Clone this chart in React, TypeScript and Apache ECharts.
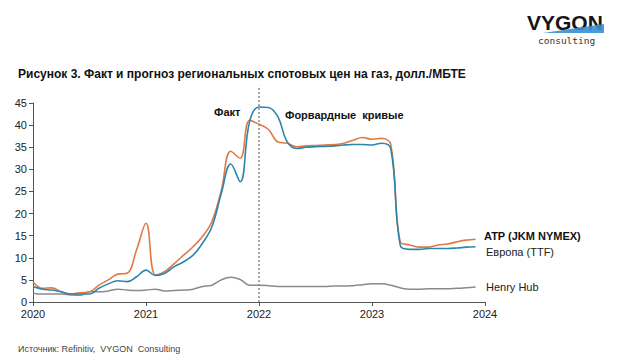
import React, { useEffect, useRef } from "react";
import * as echarts from "echarts";

// Monthly data, Jan 2020 .. Dec 2023
const startYear = 2020;
const monthCount = 48;

const atpJkm = [
  4.6, 3.1, 3.2, 2.3, 1.8, 2.1, 2.3, 3.8, 5.0, 6.3, 6.5, 11.8,
  17.8, 6.1, 6.9, 8.7, 10.6, 12.5, 14.8, 18.2, 25.3, 34.1, 32.5, 41.1,
  40.2, 39.0, 36.2, 35.9, 35.1, 35.3, 35.4, 35.5, 35.6, 35.9, 36.6, 37.2,
  36.8, 37.0, 35.6, 13.6, 12.9, 12.4, 12.4, 12.9, 13.1, 13.6, 14.0, 14.2,
];

const europeTtf = [
  3.5, 2.9, 2.7, 2.3, 1.8, 1.8, 1.8, 3.1, 4.1, 4.8, 4.6, 5.7,
  7.2, 6.0, 6.5, 8.0, 9.1, 10.6, 13.3, 17.0, 24.6, 31.2, 27.2, 40.8,
  44.1, 44.0, 41.9, 36.2, 34.7, 35.0, 35.1, 35.2, 35.3, 35.5, 35.6, 35.6,
  35.5, 35.9, 34.6, 12.8, 11.9, 11.9, 12.1, 12.1, 12.1, 12.2, 12.4, 12.5,
];

const henryHub = [
  2.0, 1.8, 1.8, 1.8, 1.6, 1.5, 2.3, 2.3, 2.5, 2.9, 2.7, 2.6,
  2.7, 2.9, 2.5, 2.6, 2.7, 2.9, 3.5, 3.8, 5.0, 5.6, 5.1, 3.8,
  3.8, 3.7, 3.5, 3.5, 3.5, 3.5, 3.5, 3.5, 3.6, 3.6, 3.7, 3.9,
  4.1, 4.1, 3.8, 3.2, 2.9, 2.9, 3.0, 3.0, 3.0, 3.1, 3.2, 3.4,
];

const seriesNames = ["ATP (JKM NYMEX)", "Европа (TTF)", "Henry Hub"];
const yearTicks = [2020, 2021, 2022, 2023, 2024];
const factForwardBoundary = 2022;

const title = "Рисунок 3. Факт и прогноз региональных спотовых цен на газ, долл./МБТЕ";
const source = "Источник: Refinitiv,  VYGON  Consulting";

const monthX: number[] = [];
for (let i = 0; i < monthCount; i++) monthX.push(startYear + i / 12);

const pair = (vals: number[]) => vals.map((v, i) => [monthX[i], v]);

const FONT = "'Liberation Sans', Arial, sans-serif";

export default function App() {
  const ref = useRef<HTMLDivElement>(null);
  useEffect(() => {
    document.body.style.margin = "0";
    if (!ref.current) return;
    const chart = echarts.init(ref.current, undefined, { renderer: "svg" });
    const lineBase = {
      type: "line" as const,
      smooth: 0.4,
      showSymbol: false,
      symbol: "none",
    };
    chart.setOption({
      animation: false,
      backgroundColor: "#ffffff",
      textStyle: { fontFamily: FONT },
      grid: { left: 33, right: 135, top: 103, bottom: 62 },
      xAxis: {
        type: "value",
        min: yearTicks[0],
        max: yearTicks[yearTicks.length - 1],
        interval: 1,
        axisLine: { show: true, lineStyle: { color: "#555", width: 1 } },
        axisTick: { show: true, length: 4, lineStyle: { color: "#555" } },
        axisLabel: {
          color: "#222",
          fontSize: 11,
          margin: 6,
          formatter: (v: number) => String(v),
        },
        splitLine: { show: false },
      },
      yAxis: {
        type: "value",
        min: 0,
        max: 45,
        interval: 5,
        axisLine: { show: true, lineStyle: { color: "#555", width: 1 } },
        axisTick: { show: true, length: 4, lineStyle: { color: "#555" } },
        axisLabel: { color: "#222", fontSize: 11, margin: 6 },
        splitLine: { show: false },
      },
      series: [
        {
          ...lineBase,
          name: seriesNames[2],
          data: pair(henryHub),
          lineStyle: { color: "#8a8a8a", width: 1.5 },
          z: 2,
        },
        {
          ...lineBase,
          name: seriesNames[0],
          data: pair(atpJkm),
          lineStyle: { color: "#E07A45", width: 1.6 },
          z: 3,
        },
        {
          ...lineBase,
          name: seriesNames[1],
          data: pair(europeTtf),
          lineStyle: { color: "#2A86AC", width: 1.6 },
          z: 4,
        },
        {
          type: "line",
          name: "boundary",
          clip: false,
          showSymbol: false,
          symbol: "none",
          data: [
            [factForwardBoundary, 0],
            [factForwardBoundary, 48.9],
          ],
          lineStyle: { color: "#555", width: 1, type: [2, 2] },
          z: 1,
        },
      ],
      graphic: [
        {
          type: "text",
          left: 18,
          top: 68,
          style: {
            text: title,
            font: `bold 12px ${FONT}`,
            fill: "#111",
          },
        },
        {
          type: "text",
          left: 214,
          top: 106,
          style: { text: "Факт", font: `bold 11px ${FONT}`, fill: "#111" },
        },
        {
          type: "text",
          left: 285,
          top: 109,
          style: {
            text: "Форвардные  кривые",
            font: `bold 11px ${FONT}`,
            fill: "#111",
          },
        },
        {
          type: "text",
          left: 484,
          top: 230,
          style: { text: seriesNames[0], font: `bold 11px ${FONT}`, fill: "#111" },
        },
        {
          type: "text",
          left: 486,
          top: 246,
          style: { text: seriesNames[1], font: `11px ${FONT}`, fill: "#222" },
        },
        {
          type: "text",
          left: 486,
          top: 281,
          style: { text: seriesNames[2], font: `11px ${FONT}`, fill: "#222" },
        },
        {
          type: "text",
          left: 18,
          top: 344,
          style: { text: source, font: `9px ${FONT}`, fill: "#444" },
        },
        // logo
        {
          type: "text",
          left: 527,
          top: 12,
          z: 10,
          style: {
            text: "VYGON",
            font: `900 21px ${FONT}`,
            fill: "#151515",
          },
        },
        {
          type: "polygon",
          z: 20,
          shape: {
            points: [
              [543, 33],
              [604, 24],
              [604, 33],
            ],
          },
          style: { fill: "#3A8FD4", opacity: 0.9 },
        },
        {
          type: "text",
          left: 538,
          top: 35,
          style: {
            text: "consulting",
            font: `9.5px 'DejaVu Sans Mono', monospace`,
            fill: "#333",
          },
        },
      ],
    });
    return () => chart.dispose();
  }, []);
  return <div ref={ref} style={{ width: 620, height: 364 }} />;
}
